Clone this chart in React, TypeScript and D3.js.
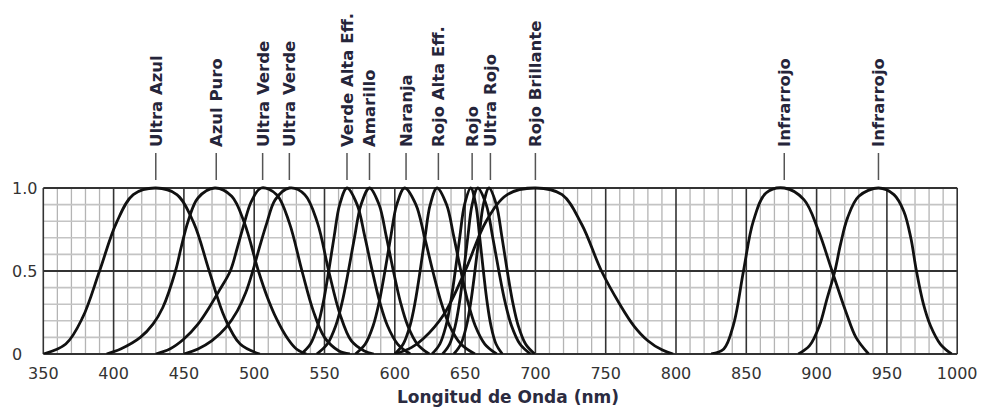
import React from "react";
import * as d3 from "d3";

type Pt = [number, number];

// Relative spectral response curves (wavelength nm, relative intensity)
const ultraAzul: Pt[] = [[350,0],[366,0.06],[378,0.22],[390,0.5],[402,0.79],[414,0.96],[430,1],[445,0.96],[457,0.79],[468,0.5],[479,0.22],[490,0.06],[504,0]];
const azulPuro: Pt[] = [[395,0],[405,0.03],[419,0.1],[428,0.18],[435,0.28],[444,0.5],[448,0.64],[453,0.8],[460,0.94],[472,1],[484,0.95],[493,0.79],[503,0.5],[509,0.35],[516,0.21],[524,0.09],[530,0.03],[537,0]];
const ultraVerde505: Pt[] = [[430,0],[440,0.03],[450,0.09],[460,0.18],[468,0.28],[475,0.38],[483,0.5],[488,0.64],[493,0.79],[498,0.92],[505,1],[516,0.96],[525,0.79],[534,0.5],[542,0.26],[550,0.1],[560,0.02],[568,0]];
const ultraVerde525: Pt[] = [[450,0],[460,0.03],[470,0.08],[480,0.16],[488,0.26],[494,0.37],[499,0.5],[504,0.65],[509,0.79],[515,0.93],[525,1],[536,0.96],[545,0.79],[553,0.5],[561,0.24],[569,0.08],[578,0.02],[585,0]];
const verde: Pt[] = [[533.5,0],[540,0.06],[545.2,0.17],[549.1,0.31],[553,0.5],[556.9,0.71],[560.8,0.9],[566,1],[573.2,0.9],[578.6,0.71],[584,0.5],[589.4,0.31],[594.8,0.17],[602,0.06],[611,0]];
const amarillo: Pt[] = [[544.5,0],[552,0.06],[558,0.17],[562.5,0.31],[567,0.5],[571.5,0.71],[576,0.9],[582,1],[588.8,0.9],[593.9,0.71],[599,0.5],[604.1,0.31],[609.2,0.17],[616,0.06],[624.5,0]];
const naranja: Pt[] = [[572,0],[579,0.06],[584.6,0.17],[588.8,0.31],[593,0.5],[597.2,0.71],[601.4,0.9],[607,1],[615,0.9],[621,0.71],[627,0.5],[633,0.31],[639,0.17],[647,0.06],[657,0]];
const rojoAltaEff: Pt[] = [[600,0],[606,0.06],[610.8,0.17],[614.4,0.31],[618,0.5],[621.6,0.71],[625.2,0.9],[630,1],[636.8,0.9],[641.9,0.71],[647,0.5],[652.1,0.31],[657.2,0.17],[664,0.06],[672.5,0]];
const rojo: Pt[] = [[626.5,0],[632,0.06],[636.4,0.17],[639.7,0.31],[643,0.5],[646.3,0.71],[649.6,0.9],[654,1],[657.6,0.9],[660.3,0.71],[663,0.5],[665.7,0.31],[668.4,0.17],[672,0.06],[676.5,0]];
const rojoB: Pt[] = [[634,0],[639,0.06],[643,0.17],[646,0.31],[649,0.5],[652,0.71],[655,0.9],[659,1],[665,0.9],[669.5,0.71],[674,0.5],[678.5,0.31],[683,0.17],[689,0.06],[696.5,0]];
const ultraRojo: Pt[] = [[642,0],[647,0.06],[651,0.17],[654,0.31],[657,0.5],[660,0.71],[663,0.9],[667,1],[672.2,0.9],[676.1,0.71],[680,0.5],[683.9,0.31],[687.8,0.17],[693,0.06],[699.5,0]];
const rojoBrillante: Pt[] = [[600,0],[612,0.04],[620,0.09],[635,0.24],[650,0.5],[665,0.8],[680,0.96],[700,1],[719,0.96],[733,0.78],[747,0.5],[760,0.3],[770,0.17],[780,0.08],[790,0.025],[798,0]];
const infrarrojo880: Pt[] = [[825,0],[834,0.03],[841,0.18],[848,0.5],[855,0.8],[864,0.97],[877,1],[891,0.93],[901,0.75],[911,0.5],[921,0.25],[928,0.1],[937,0]];
const infrarrojo940: Pt[] = [[887,0],[895,0.05],[902,0.17],[907,0.32],[913,0.5],[917,0.66],[922,0.82],[930,0.95],[944,1],[955,0.96],[962,0.86],[967,0.7],[971,0.5],[976,0.3],[981,0.17],[988,0.06],[996,0]];

const series: Pt[][] = [ultraAzul, azulPuro, ultraVerde505, ultraVerde525, verde, amarillo, naranja, rojoAltaEff, rojo, rojoB, ultraRojo, rojoBrillante, infrarrojo880, infrarrojo940];

const labelNames = ["Ultra Azul","Azul Puro","Ultra Verde","Ultra Verde","Verde Alta Eff.","Amarillo","Naranja","Rojo Alta Eff.","Rojo","Ultra Rojo","Rojo Brillante","Infrarrojo","Infrarrojo"];
const labelPeaks = [430,473,506,525,566,582,608,631,655,668,700,877,944];

const xTicks = [350,400,450,500,550,600,650,700,750,800,850,900,950,1000];
const yTickValues = [0,0.5,1];
const yTickLabels = ["0","0.5","1.0"];
const xTitle = "Longitud de Onda (nm)";

export default function App() {
  const W = 994, H = 414;
  const x = d3.scaleLinear().domain([350, 1000]).range([43.3, 957.2]);
  const y = d3.scaleLinear().domain([0, 1]).range([354, 188]);
  const line = d3.line<Pt>().x(d => x(d[0])).y(d => y(d[1])).curve(d3.curveCatmullRom.alpha(0.5));

  const minorX = d3.range(350, 1001, 10).filter(v => v % 50 !== 0);
  const minorY = d3.range(1, 10).map(v => v / 10).filter(v => v !== 0.5);
  const font = "'DejaVu Sans', Verdana, sans-serif";

  return (
    <svg width={W} height={H} style={{ position: "absolute", left: 0, top: 0, background: "#fff" }}>
      <rect x={0} y={0} width={W} height={H} fill="#fff" />
      <defs>
        <clipPath id="plotClip">
          <rect x={x(350)} y={y(1) - 2} width={x(1000) - x(350)} height={y(0) - y(1) + 2} />
        </clipPath>
      </defs>
      {minorX.map(v => (
        <line key={"mx" + v} x1={x(v)} x2={x(v)} y1={y(0)} y2={y(1)} stroke="#b4b4b4" strokeWidth={1.3} />
      ))}
      {minorY.map(v => (
        <line key={"my" + v} x1={x(350)} x2={x(1000)} y1={y(v)} y2={y(v)} stroke="#c4c4c4" strokeWidth={1.6} />
      ))}
      {xTicks.map(v => (
        <line key={"Mx" + v} x1={x(v)} x2={x(v)} y1={y(0)} y2={y(1)} stroke="#333" strokeWidth={1.6} />
      ))}
      {yTickValues.map(v => (
        <line key={"My" + v} x1={x(350)} x2={x(1000)} y1={y(v)} y2={y(v)} stroke="#333" strokeWidth={1.8} />
      ))}
      <g clipPath="url(#plotClip)">
        {series.map((s, i) => (
          <path key={"s" + i} d={line(s) || ""} fill="none" stroke="#111" strokeWidth={2.8} strokeLinejoin="round" />
        ))}
      </g>
      {labelPeaks.map((p, i) => (
        <g key={"l" + i}>
          <line x1={x(p)} x2={x(p)} y1={153} y2={180} stroke="#555" strokeWidth={1.5} />
          <text transform={`translate(${x(p)},147) rotate(-90)`} dy="0.36em" fontFamily={font} fontWeight="bold" fontSize={16.5} fill="#25253a">
            {labelNames[i]}
          </text>
        </g>
      ))}
      {yTickValues.map((v, i) => (
        <text key={"yt" + v} x={12} y={y(v)} dy="0.36em" fontFamily={font} fontSize={16} fill="#333">{yTickLabels[i]}</text>
      ))}
      {xTicks.map(v => (
        <text key={"xt" + v} x={x(v)} y={379} textAnchor="middle" fontFamily={font} fontSize={16} fill="#333">{v}</text>
      ))}
      <text x={508} y={403} textAnchor="middle" fontFamily={font} fontWeight="bold" fontSize={17} fill="#2b2b40">{xTitle}</text>
    </svg>
  );
}
